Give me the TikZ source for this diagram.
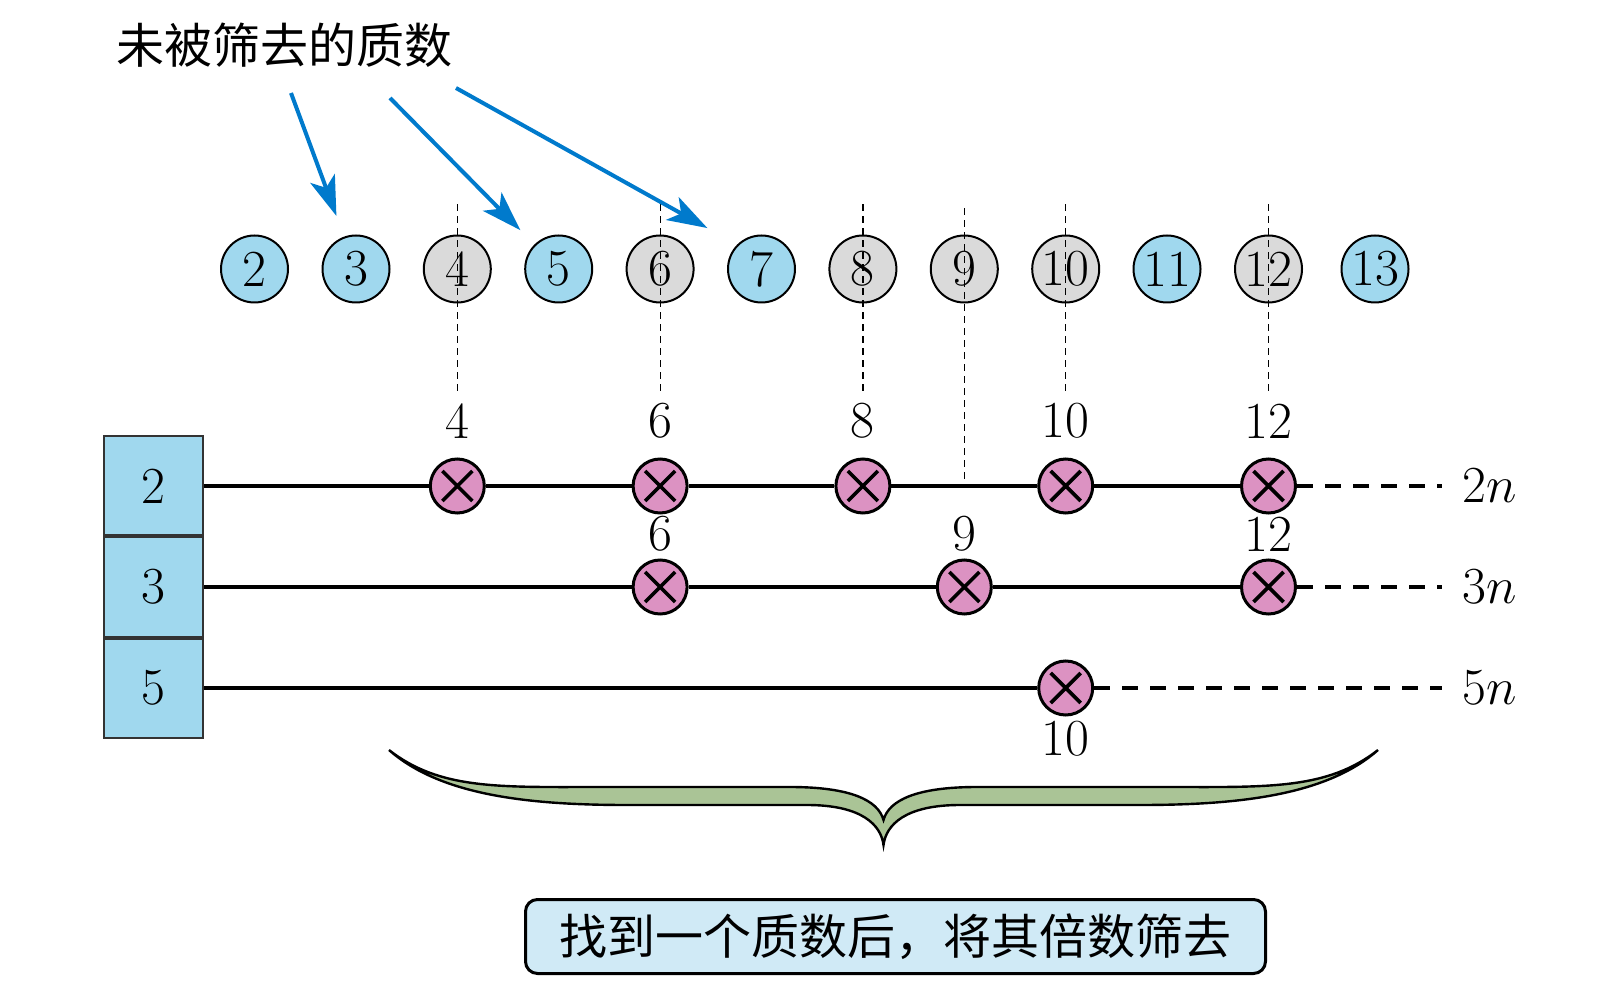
\documentclass[tikz,border=0pt]{standalone}
\usepackage{fix-cm}
\usepackage{fontspec}
\newfontfamily\cjk{Noto Sans CJK SC}
\usetikzlibrary{arrows.meta,positioning}

\definecolor{primeblue}{RGB}{160,216,238}
\definecolor{gonegray}{RGB}{218,218,218}
\definecolor{hitpink}{RGB}{220,146,194}
\definecolor{bracegreen}{RGB}{170,196,150}
\definecolor{noteblue}{RGB}{208,234,246}
\definecolor{pointblue}{RGB}{0,122,204}

\tikzset{
  num/.style={circle,draw,line width=1pt,minimum size=33.5pt,inner sep=1pt},
  prime/.style={num,fill=primeblue},
  gone/.style={num,fill=gonegray},
  hit/.style={circle,draw,line width=1.5pt,fill=hitpink,minimum size=27pt,inner sep=0pt,
    path picture={\draw[line width=1.8pt]
      ([shift={(-7.5pt,-7.5pt)}]path picture bounding box.center) -- ([shift={(7.5pt,7.5pt)}]path picture bounding box.center)
      ([shift={(-7.5pt,7.5pt)}]path picture bounding box.center) -- ([shift={(7.5pt,-7.5pt)}]path picture bounding box.center);}},
  sievebox/.style={rectangle,draw=black!80,line width=1pt,fill=primeblue,minimum size=49.5pt,inner sep=0pt},
  rail/.style={line width=1.6pt},
  tail/.style={line width=1.6pt,dash pattern=on 8pt off 6pt,shorten >=7pt},
  guide/.style={line width=0.6pt,dash pattern=on 3.5pt off 2.5pt},
  pointer/.style={pointblue,line width=2pt,-{Stealth[length=20pt,width=13pt,inset=5pt]}},
  brace/.style={fill=bracegreen,draw=black,line width=1.2pt},
  note/.style={draw,line width=1.5pt,rounded corners=6pt,fill=noteblue,minimum width=370pt,minimum height=37pt},
  every label/.style={inner sep=2pt}
}

\begin{document}
\begin{tikzpicture}[x=0.5pt,y=-0.5pt,font=\fontsize{26}{31}\selectfont]
   \useasboundingbox (0,0) rectangle (1622,983);

   \node[font=\cjk\fontsize{24}{28}\selectfont] (title) at (284,45) {未被筛去的质数};

   \foreach \k/\kind/\x in {2/prime/254.5,3/prime/356,4/gone/457.3,5/prime/558.7,6/gone/660.1,7/prime/761.5,
                            8/gone/862.9,9/gone/964.3,10/gone/1065.7,11/prime/1167,12/gone/1268.5,13/prime/1375}
     \node[\kind] (c\k) at (\x,269) {\k};

   \node[sievebox]                 (b2) at (153.5,486) {2};
   \node[sievebox,below=0pt of b2] (b3)                 {3};
   \node[sievebox,below=0pt of b3] (b5)                 {5};

   \node (t2) at (1490,486) {$2n$};
   \node (t3) at (1490,587) {$3n$};
   \node (t5) at (1490,688) {$5n$};

   \begin{scope}[label distance=7.5pt]
     \foreach \k in {4,6,8,10,12}
       \node[hit,label={[name=l2-\k]above:\k}] (h2-\k) at (c\k |- b2) {};
   \end{scope}
   \begin{scope}[label distance=1.5pt]
     \foreach \k in {6,9,12}
       \node[hit,label={[name=l3-\k]above:\k}] (h3-\k) at (c\k |- b3) {};
   \end{scope}
   \node[hit,label={[name=l5-10,label distance=0pt]below:10}] (h5-10) at (c10 |- b5) {};

   \draw[rail] (b2) -- (h2-4) -- (h2-6) -- (h2-8) -- (h2-10) -- (h2-12);
   \draw[rail] (b3) -- (h3-6) -- (h3-9) -- (h3-12);
   \draw[rail] (b5) -- (h5-10);
   \draw[tail] (h2-12) -- (t2);
   \draw[tail] (h3-12) -- (t3);
   \draw[tail] (h5-10) -- (t5);

   \foreach \k in {4,6,8,10,12}
     \draw[guide,shorten >=3pt] ([yshift=15pt]c\k.north) -- (l2-\k);
   \draw[guide] ([yshift=13pt]c9.north) -- (c9 |- b2);

   \coordinate (p3) at (291,93);
   \coordinate (p5) at (390,98);
   \coordinate (p7) at (456,88);
   \draw[pointer,shorten >=11pt] (p3) -- (c3);
   \draw[pointer,shorten >=10pt] (p5) -- (c5);
   \draw[pointer,shorten >=17pt] (p7) -- (c7.north west);

   \filldraw[brace] (389,750) .. controls (440,790) and (500,787) .. (600,787) -- (790,787)
      .. controls (850,787) and (878,800) .. (883.5,820)
      .. controls (889,800) and (917,787) .. (977,787) -- (1167,787)
      .. controls (1267,787) and (1327,790) .. (1378,750)
      .. controls (1327,795) and (1240,805) .. (1140,805) -- (960,805)
      .. controls (905,805) and (886,825) .. (883.5,845)
      .. controls (881,825) and (862,805) .. (807,805) -- (627,805)
      .. controls (527,805) and (440,795) .. cycle;

   \node[note,font=\cjk\fontsize{24}{28}\selectfont] (rule) at (895.5,936.5) {找到一个质数后，将其倍数筛去};
\end{tikzpicture}
\end{document}
